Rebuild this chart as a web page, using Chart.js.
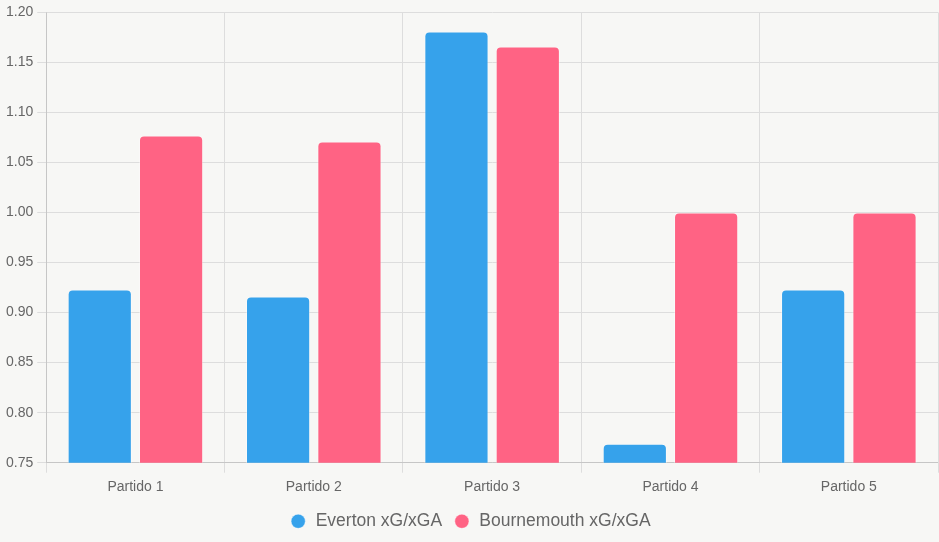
<!DOCTYPE html>
<html lang="es">
<head>
  <meta charset="UTF-8">
  <title>xG/xGA</title>
  <script src="https://cdn.jsdelivr.net/npm/chart.js"></script>
  <style>
    html, body { margin: 0; padding: 0; background: #f7f7f5; }
    .wrap { width: 939px; height: 542px; }
  </style>
</head>
<body>
  <div class="wrap"><canvas id="xgChart"></canvas></div>
  <script>
    const partidos = ['Partido 1', 'Partido 2', 'Partido 3', 'Partido 4', 'Partido 5'];
    const everton = [0.923, 0.916, 1.181, 0.769, 0.923];
    const bournemouth = [1.077, 1.071, 1.166, 1.0, 1.0];

    Chart.defaults.font.family = '"Liberation Sans", Arial, sans-serif';
    Chart.defaults.color = '#666';

    new Chart(document.getElementById('xgChart'), {
      type: 'bar',
      data: {
        labels: partidos,
        datasets: [
          {
            label: 'Everton xG/xGA',
            data: everton,
            backgroundColor: '#36A2EB',
            borderColor: 'rgba(255,255,255,0.4)',
            borderWidth: 1,
            borderRadius: 5
          },
          {
            label: 'Bournemouth xG/xGA',
            data: bournemouth,
            backgroundColor: '#FF6384',
            borderColor: 'rgba(255,255,255,0.4)',
            borderWidth: 1,
            borderRadius: 5
          }
        ]
      },
      options: {
        responsive: true,
        maintainAspectRatio: false,
        animation: false,
        layout: { padding: { top: 1, left: 2, bottom: 2, right: 1 } },
        scales: {
          x: {
            grid: { color: '#ddd', tickLength: 10 },
            ticks: { font: { size: 14 }, padding: 6 }
          },
          y: {
            min: 0.75,
            max: 1.2,
            grid: { color: '#ddd', tickLength: 9 },
            ticks: {
              stepSize: 0.05,
              font: { size: 14 },
              padding: 4,
              callback: v => v.toFixed(2)
            }
          }
        },
        plugins: {
          legend: {
            position: 'bottom',
            labels: {
              usePointStyle: true,
              pointStyle: 'circle',
              boxWidth: 17.5,
              boxHeight: 10,
              padding: 11,
              font: { size: 17.5 }
            }
          }
        }
      }
    });
  </script>
</body>
</html>
